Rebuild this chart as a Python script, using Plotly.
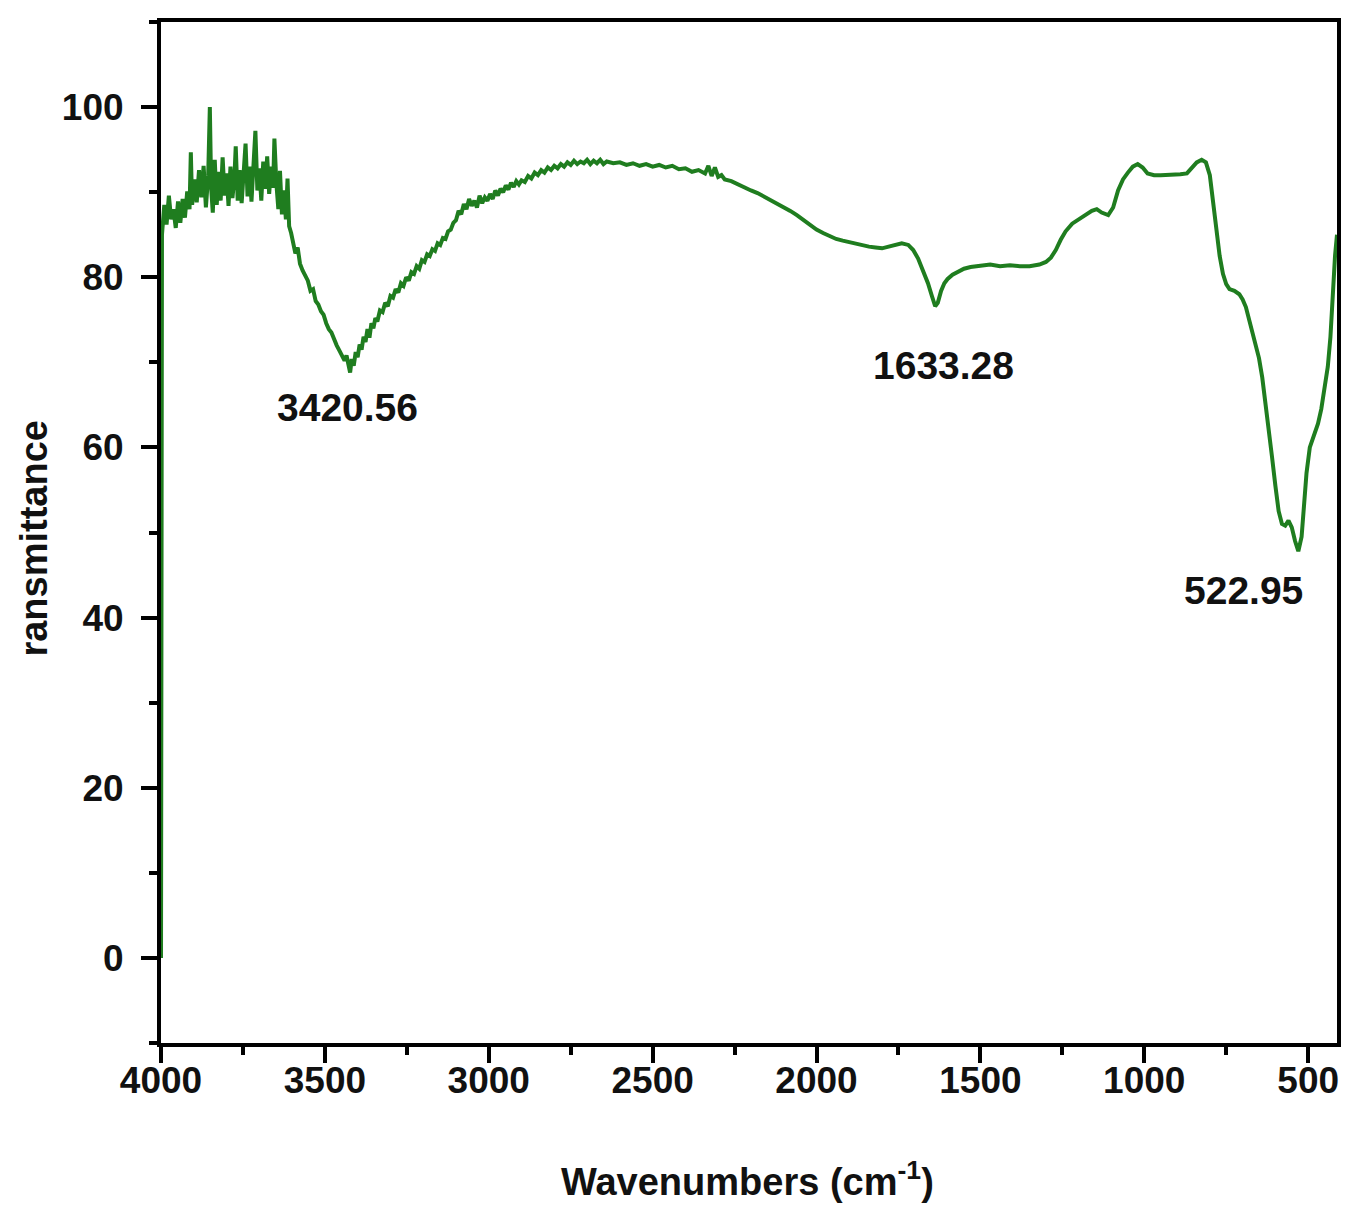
import plotly.graph_objects as go

# ---------------- data ----------------
wavenumber = [
    4000, 3997, 3990, 3983, 3976, 3969, 3962, 3955, 3948, 3941, 3934, 3927, 3920, 3913, 3909, 3905,
    3898, 3891, 3884, 3877, 3870, 3863, 3856, 3851, 3847, 3842, 3836, 3830, 3824, 3818, 3812, 3806,
    3800, 3794, 3788, 3782, 3776, 3772, 3766, 3760, 3754, 3748, 3742, 3736, 3730, 3724, 3718, 3712,
    3706, 3700, 3694, 3688, 3682, 3676, 3670, 3664, 3658, 3654, 3648, 3642, 3637, 3631, 3625, 3619,
    3614, 3609, 3603, 3597, 3590, 3583, 3576, 3568, 3560, 3552, 3544, 3536, 3528, 3520, 3512, 3504,
    3496, 3488, 3480, 3472, 3464, 3456, 3448, 3440, 3434, 3428, 3423, 3418, 3412, 3406, 3400, 3394,
    3388, 3382, 3376, 3370, 3364, 3358, 3352, 3346, 3340, 3332, 3324, 3316, 3308, 3300, 3292, 3284,
    3276, 3268, 3260, 3252, 3244, 3236, 3228, 3220, 3212, 3204, 3196, 3188, 3180, 3172, 3164, 3156,
    3148, 3140, 3132, 3124, 3116, 3108, 3100, 3092, 3084, 3076, 3068, 3060, 3052, 3044, 3036, 3028,
    3020, 3012, 3004, 2996, 2988, 2980, 2972, 2964, 2956, 2948, 2940, 2932, 2924, 2916, 2908, 2900,
    2890, 2880, 2870, 2860, 2850, 2840, 2830, 2820, 2810, 2800, 2790, 2780, 2770, 2760, 2750, 2740,
    2730, 2720, 2710, 2700, 2690, 2680, 2670, 2660, 2650, 2640, 2620, 2600, 2580, 2560, 2540, 2520,
    2500, 2480, 2460, 2440, 2420, 2400, 2380, 2360, 2340, 2330, 2320, 2310, 2300, 2290, 2280, 2260,
    2240, 2220, 2200, 2180, 2160, 2140, 2120, 2100, 2080, 2060, 2040, 2020, 2000, 1980, 1960, 1940,
    1920, 1900, 1880, 1860, 1840, 1820, 1800, 1780, 1760, 1740, 1720, 1705, 1690, 1675, 1660, 1648,
    1638, 1630, 1620, 1610, 1600, 1585, 1570, 1550, 1530, 1500, 1470, 1440, 1410, 1380, 1350, 1320,
    1300, 1285, 1270, 1255, 1240, 1220, 1200, 1180, 1160, 1145, 1130, 1110, 1095, 1080, 1065, 1050,
    1035, 1020, 1005, 990, 970, 950, 930, 910, 890, 870, 855, 840, 825, 812, 800, 790,
    780, 770, 760, 750, 740, 725, 710, 700, 690, 680, 670, 660, 650, 640, 630, 620,
    610, 600, 590, 580, 570, 560, 550, 540, 530, 520, 512, 505, 495, 485, 470, 460,
    450, 440, 432, 425, 418, 412,
]

transmittance = [
    0.0, 85.0, 88.5, 86.2, 89.6, 86.8, 88.0, 85.8, 88.9, 86.4, 89.2, 87.0, 90.1, 88.0, 94.7, 88.5,
    91.5, 88.8, 92.6, 89.4, 93.1, 88.2, 92.0, 100.0, 90.5, 87.6, 93.8, 88.5, 92.4, 89.0, 94.1, 89.6,
    92.2, 88.4, 93.0, 89.3, 91.8, 95.4, 89.0, 92.6, 88.7, 93.4, 95.7, 89.5, 93.0, 88.9, 94.0, 97.2,
    90.2, 92.8, 89.0, 93.6, 90.4, 94.2, 89.8, 93.0, 90.5, 96.3, 91.0, 88.0, 92.5, 87.4, 90.2, 86.8,
    91.6, 86.0, 85.2, 84.0, 82.8, 83.5, 81.6, 80.8, 80.2, 79.6, 78.4, 78.6, 77.2, 76.8, 76.0, 75.6,
    74.6, 73.9, 73.5, 72.6, 72.0, 71.4, 70.9, 70.2, 70.8, 69.3, 68.8, 70.4, 69.6, 71.2, 70.6, 72.1,
    71.5, 73.0, 72.4, 73.9, 72.9, 74.6, 74.0, 75.2, 74.8, 76.1, 75.9, 77.0, 76.6, 77.8, 77.6, 78.6,
    78.2, 79.3, 79.0, 80.0, 79.6, 80.6, 80.4, 81.3, 81.0, 82.0, 81.8, 82.7, 82.5, 83.3, 83.1, 84.0,
    83.8, 84.6, 84.5, 85.4, 85.6, 86.4, 86.7, 87.8, 87.4, 88.6, 88.0, 89.2, 88.4, 89.0, 88.2, 89.6,
    88.7, 89.4, 89.0, 89.8, 89.2, 90.2, 89.6, 90.4, 90.0, 90.8, 90.3, 91.1, 90.6, 91.3, 90.9, 91.4,
    91.2, 91.9, 91.6, 92.3, 92.0, 92.6, 92.3, 92.9, 92.6, 93.1, 92.8, 93.3, 93.0, 93.5, 93.2, 93.7,
    93.3, 93.6, 93.4, 93.8, 93.3, 93.7, 93.4, 93.8, 93.3, 93.6, 93.4, 93.5, 93.2, 93.4, 93.1, 93.3,
    93.0, 93.2, 92.9, 93.1, 92.7, 92.8, 92.4, 92.6, 92.2, 93.1, 91.9, 92.9, 91.8, 92.0, 91.5, 91.3,
    90.9, 90.6, 90.2, 89.9, 89.5, 89.1, 88.7, 88.3, 87.8, 87.3, 86.7, 86.1, 85.6, 85.2, 84.8, 84.5,
    84.3, 84.1, 83.9, 83.7, 83.6, 83.5, 83.4, 83.6, 83.8, 84.0, 83.8, 83.2, 82.2, 80.8, 79.3, 77.8,
    76.6, 77.0, 78.4, 79.3, 79.8, 80.3, 80.6, 81.0, 81.2, 81.4, 81.5, 81.3, 81.4, 81.3, 81.3, 81.5,
    81.8, 82.3, 83.2, 84.4, 85.4, 86.3, 86.8, 87.3, 87.8, 88.0, 87.6, 87.3, 88.2, 90.2, 91.5, 92.3,
    93.0, 93.3, 92.9, 92.2, 92.0, 92.0, 92.0, 92.0, 92.1, 92.2, 92.8, 93.5, 93.8, 93.5, 92.0, 88.5,
    85.0, 82.5, 80.4, 79.2, 78.6, 78.4, 78.0, 77.4, 76.5, 75.0, 73.8, 72.4, 70.5, 68.2, 65.3, 62.5,
    58.8, 55.5, 52.5, 51.0, 50.8, 51.4, 50.6, 49.0, 47.8, 49.5, 53.5, 57.0, 60.0, 61.2, 62.8, 64.5,
    66.8, 69.5, 73.0, 78.5, 82.5, 85.0,
]

peak_labels = ["3420.56", "1633.28", "522.95"]
peak_label_x = [3431, 1614, 698]
peak_label_y = [64.7, 69.6, 43.2]

x_title = "Wavenumbers (cm<sup>-1</sup>)"
y_title = "ransmittance"

# ---------------- figure ----------------
FONT = "Liberation Sans, Arial, sans-serif"
GREEN = "#1f7d1f"

fig = go.Figure()
fig.add_trace(go.Scatter(
    x=wavenumber, y=transmittance, mode="lines",
    line=dict(color=GREEN, width=4), showlegend=False, hoverinfo="skip",
))

for txt, xx, yy in zip(peak_labels, peak_label_x, peak_label_y):
    fig.add_annotation(x=xx, y=yy, xref="x", yref="y", text=txt, showarrow=False,
                       font=dict(family=FONT, size=39, color="#111111", weight="bold"),
                       xanchor="center", yanchor="middle")

fig.add_annotation(x=0.499, y=-0.133, xref="paper", yref="paper", text=x_title,
                   showarrow=False, xanchor="center", yanchor="middle",
                   font=dict(family=FONT, size=38, color="#111111", weight="bold"))
fig.add_annotation(x=-0.108, y=0.495, xref="paper", yref="paper", text=y_title,
                   showarrow=False, xanchor="center", yanchor="middle", textangle=-90,
                   font=dict(family=FONT, size=38, color="#111111", weight="bold"))

axis_common = dict(
    showgrid=False, zeroline=False, showline=True, linecolor="black", linewidth=4,
    mirror=True, ticks="outside", ticklen=16, tickwidth=3.5, tickcolor="black",
    tickfont=dict(family=FONT, size=37, color="#111111", weight="bold"),
)

fig.update_xaxes(range=[4000, 412], tickmode="linear", tick0=500, dtick=500,
                 ticklabelstandoff=-14,
                 minor=dict(ticks="outside", ticklen=8, tickwidth=3.5, tickcolor="black",
                            tick0=250, dtick=250, showgrid=False),
                 **axis_common)
fig.update_yaxes(range=[-10, 110], tickmode="linear", tick0=0, dtick=20,
                 ticklabelstandoff=10,
                 minor=dict(ticks="outside", ticklen=8, tickwidth=3.5, tickcolor="black",
                            tick0=10, dtick=10, showgrid=False),
                 **axis_common)

fig.update_layout(
    width=1359, height=1216,
    margin=dict(l=153, r=30, t=10, b=181),
    paper_bgcolor="white", plot_bgcolor="white",
)

fig.write_html("out.html")
